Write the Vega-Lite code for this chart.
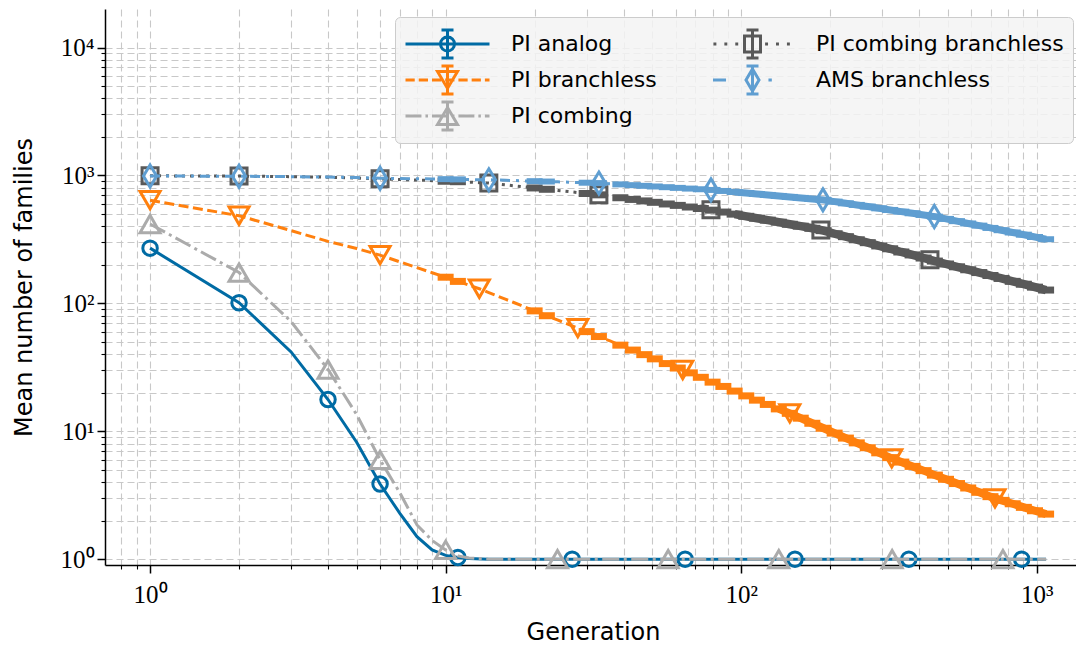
{
  "$schema": "https://vega.github.io/schema/vega-lite/v6.json",
  "width": 971,
  "height": 556,
  "autosize": "none",
  "padding": {"left": 105, "top": 9, "right": 0, "bottom": 81},
  "background": "white",
  "config": {
    "view": {"stroke": null},
    "axis": {
      "domainColor": "black", "domainWidth": 1.5, "tickColor": "black",
      "grid": true, "gridColor": "#c8c8c8", "gridDash": [7, 4], "gridWidth": 1.1,
      "labelFont": "Liberation Serif", "labelFontSize": 25, "labelColor": "black",
      "titleFont": "DejaVu Sans", "titleFontSize": 24, "titleFontWeight": "normal", "titleColor": "black"
    },
    "legend": {
      "columns": 2, "symbolSize": 7056, "symbolStrokeWidth": 3, "symbolOpacity": 1,
      "symbolFillColor": "transparent", "clipHeight": 36, "rowPadding": 0, "columnPadding": 52,
      "labelOffset": 20, "labelFont": "DejaVu Sans", "labelFontSize": 22, "labelColor": "black", "labelLimit": 0,
      "padding": 9, "fillColor": "rgba(243,243,243,0.85)", "strokeColor": "#cccccc", "cornerRadius": 5,
      "symbolLimit": 0
    }
  },
  "datasets": {
    "curves": [
      {"series":"PI analog","generation":1,"value":270},{"series":"PI analog","generation":2,"value":101},{"series":"PI analog","generation":3,"value":41.7},{"series":"PI analog","generation":4,"value":17.7},{"series":"PI analog","generation":5,"value":8.2},{"series":"PI analog","generation":6,"value":3.87},{"series":"PI analog","generation":7,"value":2.28},{"series":"PI analog","generation":8,"value":1.5},{"series":"PI analog","generation":9,"value":1.18},{"series":"PI analog","generation":10,"value":1.07},{"series":"PI analog","generation":11,"value":1.03},{"series":"PI analog","generation":12,"value":1.01},{"series":"PI analog","generation":14,"value":1},{"series":"PI analog","generation":20,"value":1},{"series":"PI analog","generation":50,"value":1},{"series":"PI analog","generation":100,"value":1},{"series":"PI analog","generation":300,"value":1},{"series":"PI analog","generation":1075,"value":1},

      {"series":"PI branchless","generation":1,"value":640},{"series":"PI branchless","generation":2,"value":484},{"series":"PI branchless","generation":3,"value":370},{"series":"PI branchless","generation":4,"value":305},{"series":"PI branchless","generation":5,"value":268},{"series":"PI branchless","generation":6,"value":238},{"series":"PI branchless","generation":7,"value":211},{"series":"PI branchless","generation":8,"value":190},{"series":"PI branchless","generation":9,"value":173.5},{"series":"PI branchless","generation":10,"value":160},{"series":"PI branchless","generation":11,"value":148.4},{"series":"PI branchless","generation":12,"value":138.6},{"series":"PI branchless","generation":13,"value":130},{"series":"PI branchless","generation":14,"value":121.4},{"series":"PI branchless","generation":15,"value":113.9},{"series":"PI branchless","generation":16,"value":107.3},{"series":"PI branchless","generation":17,"value":101.5},{"series":"PI branchless","generation":18,"value":96.2},{"series":"PI branchless","generation":20,"value":87.3},{"series":"PI branchless","generation":22,"value":80},{"series":"PI branchless","generation":24,"value":73.8},{"series":"PI branchless","generation":26,"value":68.5},{"series":"PI branchless","generation":28,"value":64},{"series":"PI branchless","generation":30,"value":60.1},{"series":"PI branchless","generation":33,"value":55},{"series":"PI branchless","generation":36,"value":50.8},{"series":"PI branchless","generation":39,"value":47.1},{"series":"PI branchless","generation":43,"value":43.1},{"series":"PI branchless","generation":47,"value":39.7},{"series":"PI branchless","generation":51,"value":36.8},{"series":"PI branchless","generation":56,"value":33.8},{"series":"PI branchless","generation":61,"value":31.2},{"series":"PI branchless","generation":67,"value":28.6},{"series":"PI branchless","generation":73,"value":26.4},{"series":"PI branchless","generation":80,"value":24.2},{"series":"PI branchless","generation":87,"value":22.4},{"series":"PI branchless","generation":95,"value":20.6},{"series":"PI branchless","generation":104,"value":18.9},{"series":"PI branchless","generation":113,"value":17.5},{"series":"PI branchless","generation":123,"value":16.2},{"series":"PI branchless","generation":134,"value":14.95},{"series":"PI branchless","generation":146,"value":13.8},{"series":"PI branchless","generation":159,"value":12.65},{"series":"PI branchless","generation":174,"value":11.54},{"series":"PI branchless","generation":190,"value":10.55},{"series":"PI branchless","generation":207,"value":9.67},{"series":"PI branchless","generation":226,"value":8.84},{"series":"PI branchless","generation":246,"value":8.11},{"series":"PI branchless","generation":268,"value":7.43},{"series":"PI branchless","generation":293,"value":6.78},{"series":"PI branchless","generation":319,"value":6.22},{"series":"PI branchless","generation":348,"value":5.74},{"series":"PI branchless","generation":380,"value":5.31},{"series":"PI branchless","generation":414,"value":4.92},{"series":"PI branchless","generation":452,"value":4.54},{"series":"PI branchless","generation":493,"value":4.21},{"series":"PI branchless","generation":537,"value":3.9},{"series":"PI branchless","generation":586,"value":3.6},{"series":"PI branchless","generation":639,"value":3.33},{"series":"PI branchless","generation":697,"value":3.08},{"series":"PI branchless","generation":760,"value":2.88},{"series":"PI branchless","generation":829,"value":2.71},{"series":"PI branchless","generation":904,"value":2.54},{"series":"PI branchless","generation":986,"value":2.39},{"series":"PI branchless","generation":1075,"value":2.25},

      {"series":"PI combing","generation":1,"value":417},{"series":"PI combing","generation":2,"value":174},{"series":"PI combing","generation":3,"value":72},{"series":"PI combing","generation":4,"value":30.4},{"series":"PI combing","generation":5,"value":13.5},{"series":"PI combing","generation":6,"value":5.98},{"series":"PI combing","generation":7,"value":3.3},{"series":"PI combing","generation":8,"value":1.85},{"series":"PI combing","generation":9,"value":1.4},{"series":"PI combing","generation":10,"value":1.18},{"series":"PI combing","generation":11,"value":1.06},{"series":"PI combing","generation":12,"value":1.02},{"series":"PI combing","generation":14,"value":1},{"series":"PI combing","generation":20,"value":1},{"series":"PI combing","generation":50,"value":1},{"series":"PI combing","generation":100,"value":1},{"series":"PI combing","generation":300,"value":1},{"series":"PI combing","generation":1075,"value":1},

      {"series":"PI combing branchless","generation":1,"value":993},{"series":"PI combing branchless","generation":2,"value":988},{"series":"PI combing branchless","generation":3,"value":978},{"series":"PI combing branchless","generation":4,"value":968},{"series":"PI combing branchless","generation":5,"value":955},{"series":"PI combing branchless","generation":6,"value":940},{"series":"PI combing branchless","generation":7,"value":930},{"series":"PI combing branchless","generation":8,"value":920},{"series":"PI combing branchless","generation":9,"value":910},{"series":"PI combing branchless","generation":10,"value":900},{"series":"PI combing branchless","generation":11,"value":893},{"series":"PI combing branchless","generation":12,"value":885},{"series":"PI combing branchless","generation":13,"value":878},{"series":"PI combing branchless","generation":14,"value":871},{"series":"PI combing branchless","generation":15,"value":856},{"series":"PI combing branchless","generation":16,"value":843},{"series":"PI combing branchless","generation":17,"value":830},{"series":"PI combing branchless","generation":18,"value":819},{"series":"PI combing branchless","generation":20,"value":798},{"series":"PI combing branchless","generation":22,"value":779},{"series":"PI combing branchless","generation":24,"value":762},{"series":"PI combing branchless","generation":26,"value":748},{"series":"PI combing branchless","generation":28,"value":734},{"series":"PI combing branchless","generation":30,"value":722},{"series":"PI combing branchless","generation":33,"value":705},{"series":"PI combing branchless","generation":36,"value":686},{"series":"PI combing branchless","generation":39,"value":669},{"series":"PI combing branchless","generation":43,"value":649},{"series":"PI combing branchless","generation":47,"value":632},{"series":"PI combing branchless","generation":51,"value":616},{"series":"PI combing branchless","generation":56,"value":598},{"series":"PI combing branchless","generation":61,"value":583},{"series":"PI combing branchless","generation":67,"value":566},{"series":"PI combing branchless","generation":73,"value":551},{"series":"PI combing branchless","generation":80,"value":535},{"series":"PI combing branchless","generation":87,"value":517},{"series":"PI combing branchless","generation":95,"value":498},{"series":"PI combing branchless","generation":104,"value":479},{"series":"PI combing branchless","generation":113,"value":463},{"series":"PI combing branchless","generation":123,"value":447},{"series":"PI combing branchless","generation":134,"value":431},{"series":"PI combing branchless","generation":146,"value":415},{"series":"PI combing branchless","generation":159,"value":401},{"series":"PI combing branchless","generation":174,"value":386},{"series":"PI combing branchless","generation":190,"value":370},{"series":"PI combing branchless","generation":207,"value":350},{"series":"PI combing branchless","generation":226,"value":332},{"series":"PI combing branchless","generation":246,"value":314},{"series":"PI combing branchless","generation":268,"value":298},{"series":"PI combing branchless","generation":293,"value":281},{"series":"PI combing branchless","generation":319,"value":267},{"series":"PI combing branchless","generation":348,"value":252},{"series":"PI combing branchless","generation":380,"value":239},{"series":"PI combing branchless","generation":414,"value":226},{"series":"PI combing branchless","generation":452,"value":214},{"series":"PI combing branchless","generation":493,"value":203},{"series":"PI combing branchless","generation":537,"value":193},{"series":"PI combing branchless","generation":586,"value":183},{"series":"PI combing branchless","generation":639,"value":174},{"series":"PI combing branchless","generation":697,"value":165},{"series":"PI combing branchless","generation":760,"value":156.5},{"series":"PI combing branchless","generation":829,"value":148.5},{"series":"PI combing branchless","generation":904,"value":141},{"series":"PI combing branchless","generation":986,"value":133.8},{"series":"PI combing branchless","generation":1075,"value":127},

      {"series":"AMS branchless","generation":1,"value":990},{"series":"AMS branchless","generation":2,"value":985},{"series":"AMS branchless","generation":3,"value":978},{"series":"AMS branchless","generation":4,"value":970},{"series":"AMS branchless","generation":5,"value":962},{"series":"AMS branchless","generation":6,"value":950},{"series":"AMS branchless","generation":7,"value":946},{"series":"AMS branchless","generation":8,"value":942},{"series":"AMS branchless","generation":9,"value":938},{"series":"AMS branchless","generation":10,"value":935},{"series":"AMS branchless","generation":11,"value":931},{"series":"AMS branchless","generation":12,"value":928},{"series":"AMS branchless","generation":13,"value":926},{"series":"AMS branchless","generation":14,"value":924},{"series":"AMS branchless","generation":15,"value":920},{"series":"AMS branchless","generation":16,"value":915.5},{"series":"AMS branchless","generation":17,"value":911.7},{"series":"AMS branchless","generation":18,"value":908},{"series":"AMS branchless","generation":20,"value":901.5},{"series":"AMS branchless","generation":22,"value":895.6},{"series":"AMS branchless","generation":24,"value":890.3},{"series":"AMS branchless","generation":26,"value":885.4},{"series":"AMS branchless","generation":28,"value":880.9},{"series":"AMS branchless","generation":30,"value":876.7},{"series":"AMS branchless","generation":33,"value":871},{"series":"AMS branchless","generation":36,"value":860.5},{"series":"AMS branchless","generation":39,"value":851},{"series":"AMS branchless","generation":43,"value":839},{"series":"AMS branchless","generation":47,"value":829},{"series":"AMS branchless","generation":51,"value":819.5},{"series":"AMS branchless","generation":56,"value":809},{"series":"AMS branchless","generation":61,"value":799},{"series":"AMS branchless","generation":67,"value":789},{"series":"AMS branchless","generation":73,"value":779.5},{"series":"AMS branchless","generation":80,"value":770},{"series":"AMS branchless","generation":87,"value":756},{"series":"AMS branchless","generation":95,"value":742},{"series":"AMS branchless","generation":104,"value":728},{"series":"AMS branchless","generation":113,"value":716},{"series":"AMS branchless","generation":123,"value":703.6},{"series":"AMS branchless","generation":134,"value":691},{"series":"AMS branchless","generation":146,"value":679},{"series":"AMS branchless","generation":159,"value":667},{"series":"AMS branchless","generation":174,"value":655},{"series":"AMS branchless","generation":190,"value":643},{"series":"AMS branchless","generation":207,"value":624},{"series":"AMS branchless","generation":226,"value":605},{"series":"AMS branchless","generation":246,"value":588},{"series":"AMS branchless","generation":268,"value":571},{"series":"AMS branchless","generation":293,"value":553},{"series":"AMS branchless","generation":319,"value":537},{"series":"AMS branchless","generation":348,"value":521},{"series":"AMS branchless","generation":380,"value":506},{"series":"AMS branchless","generation":414,"value":491},{"series":"AMS branchless","generation":452,"value":476},{"series":"AMS branchless","generation":493,"value":457},{"series":"AMS branchless","generation":537,"value":439},{"series":"AMS branchless","generation":586,"value":421},{"series":"AMS branchless","generation":639,"value":405},{"series":"AMS branchless","generation":697,"value":388.5},{"series":"AMS branchless","generation":760,"value":373},{"series":"AMS branchless","generation":829,"value":358},{"series":"AMS branchless","generation":904,"value":344},{"series":"AMS branchless","generation":986,"value":330},{"series":"AMS branchless","generation":1075,"value":317}
    ],
    "markers": [
      {"series":"PI analog","generation":1,"value":270},{"series":"PI analog","generation":2,"value":101},{"series":"PI analog","generation":4,"value":17.7},{"series":"PI analog","generation":6,"value":3.87},{"series":"PI analog","generation":11,"value":1.03},{"series":"PI analog","generation":26.8,"value":1},{"series":"PI analog","generation":64.6,"value":1},{"series":"PI analog","generation":152,"value":1},{"series":"PI analog","generation":369,"value":1},{"series":"PI analog","generation":889,"value":1},
      {"series":"PI branchless","generation":1,"value":640},{"series":"PI branchless","generation":2,"value":484},{"series":"PI branchless","generation":6,"value":238},{"series":"PI branchless","generation":13,"value":130},{"series":"PI branchless","generation":28,"value":64},{"series":"PI branchless","generation":63.4,"value":30.1},{"series":"PI branchless","generation":146,"value":13.8},{"series":"PI branchless","generation":323,"value":6.14},{"series":"PI branchless","generation":722,"value":2.99},
      {"series":"PI combing","generation":1,"value":417},{"series":"PI combing","generation":2,"value":174},{"series":"PI combing","generation":4,"value":30.4},{"series":"PI combing","generation":6,"value":5.98},{"series":"PI combing","generation":10,"value":1.18},{"series":"PI combing","generation":23.9,"value":1},{"series":"PI combing","generation":56.6,"value":1},{"series":"PI combing","generation":134,"value":1},{"series":"PI combing","generation":324,"value":1},{"series":"PI combing","generation":768,"value":1},
      {"series":"PI combing branchless","generation":1,"value":993},{"series":"PI combing branchless","generation":2,"value":988},{"series":"PI combing branchless","generation":6,"value":940},{"series":"PI combing branchless","generation":14,"value":871},{"series":"PI combing branchless","generation":33,"value":705},{"series":"PI combing branchless","generation":79,"value":538},{"series":"PI combing branchless","generation":186,"value":375},{"series":"PI combing branchless","generation":435,"value":219},
      {"series":"AMS branchless","generation":1,"value":990},{"series":"AMS branchless","generation":2,"value":985},{"series":"AMS branchless","generation":6,"value":950},{"series":"AMS branchless","generation":14,"value":924},{"series":"AMS branchless","generation":33,"value":871},{"series":"AMS branchless","generation":79,"value":771},{"series":"AMS branchless","generation":189,"value":644},{"series":"AMS branchless","generation":450,"value":477}
    ]
  },
  "encoding": {
    "x": {
      "field": "generation", "type": "quantitative",
      "scale": {"type": "log", "domain": [0.704, 1357], "nice": false},
      "axis": {
        "title": "Generation",
        "values": [0.8,0.9,1,2,3,4,5,6,7,8,9,10,20,30,40,50,60,70,80,90,100,200,300,400,500,600,700,800,900,1000],
        "labelExpr": "datum.value===1?'10\u2070':datum.value===10?'10\u00b9':datum.value===100?'10\u00b2':datum.value===1000?'10\u00b3':''",
        "tickSize": {"condition": {"test": "datum.value===1||datum.value===10||datum.value===100||datum.value===1000", "value": 8}, "value": 4},
        "tickWidth": {"condition": {"test": "datum.value===1||datum.value===10||datum.value===100||datum.value===1000", "value": 1.5}, "value": 1.1},
        "labelOverlap": false, "labelFlush": false, "labelPadding": 9, "labelBaseline": "top",
        "titleX": 488, "titleY": 74, "titleBaseline": "alphabetic"
      }
    },
    "y": {
      "field": "value", "type": "quantitative",
      "scale": {"type": "log", "domain": [0.9, 20000], "nice": false},
      "axis": {
        "title": "Mean number of families",
        "values": [1,2,3,4,5,6,7,8,9,10,20,30,40,50,60,70,80,90,100,200,300,400,500,600,700,800,900,1000,2000,3000,4000,5000,6000,7000,8000,9000,10000],
        "labelExpr": "datum.value===1?'10\u2070':datum.value===10?'10\u00b9':datum.value===100?'10\u00b2':datum.value===1000?'10\u00b3':datum.value===10000?'10\u2074':''",
        "tickSize": {"condition": {"test": "datum.value===1||datum.value===10||datum.value===100||datum.value===1000||datum.value===10000", "value": 8}, "value": 4},
        "tickWidth": {"condition": {"test": "datum.value===1||datum.value===10||datum.value===100||datum.value===1000||datum.value===10000", "value": 1.5}, "value": 1.1},
        "labelOverlap": false, "labelFlush": false, "labelPadding": 3,
        "titleX": -74, "titleY": 278, "titleAngle": -90, "titleBaseline": "alphabetic", "titleAlign": "center"
      }
    }
  },
  "layer": [
    {"data": {"name": "curves"}, "transform": [{"filter": "datum.series==='PI analog'"}], "mark": {"type": "line", "color": "#006BA4", "strokeWidth": 3}},
    {"data": {"name": "markers"}, "transform": [{"filter": "datum.series==='PI analog'"}], "mark": {"type": "point", "shape": "circle", "size": 210, "filled": false, "stroke": "#006BA4", "strokeWidth": 3, "opacity": 1}},

    {"data": {"name": "curves"}, "transform": [{"filter": "datum.series==='PI branchless'"}], "mark": {"type": "line", "color": "#FF800E", "strokeWidth": 3, "strokeDash": [10, 4.5]}},
    {"data": {"name": "curves"}, "transform": [{"filter": "datum.series==='PI branchless' && datum.generation>=134"}], "mark": {"type": "line", "color": "#FF800E", "strokeWidth": 8}},
    {"data": {"name": "curves"}, "transform": [{"filter": "datum.series==='PI branchless' && (datum.generation>=39 || indexof([10,11,20,22,30,33], datum.generation)>=0)"}], "mark": {"type": "point", "shape": "stroke", "size": 256, "filled": false, "stroke": "#FF800E", "strokeWidth": 7, "opacity": 1}},
    {"data": {"name": "markers"}, "transform": [{"filter": "datum.series==='PI branchless'"}], "mark": {"type": "point", "shape": "triangle-down", "size": 400, "filled": false, "stroke": "#FF800E", "strokeWidth": 3, "opacity": 1}},

    {"data": {"name": "curves"}, "transform": [{"filter": "datum.series==='PI combing'"}], "mark": {"type": "line", "color": "#ABABAB", "strokeWidth": 3, "strokeDash": [17, 4.5, 3, 4.5]}},
    {"data": {"name": "markers"}, "transform": [{"filter": "datum.series==='PI combing'"}], "mark": {"type": "point", "shape": "triangle-up", "size": 400, "filled": false, "stroke": "#ABABAB", "strokeWidth": 3, "opacity": 1}},

    {"data": {"name": "curves"}, "transform": [{"filter": "datum.series==='PI combing branchless'"}], "mark": {"type": "line", "color": "#595959", "strokeWidth": 3, "strokeDash": [3, 5]}},
    {"data": {"name": "curves"}, "transform": [{"filter": "datum.series==='PI combing branchless' && datum.generation>=95"}], "mark": {"type": "line", "color": "#595959", "strokeWidth": 8.5}},
    {"data": {"name": "curves"}, "transform": [{"filter": "datum.series==='PI combing branchless' && (datum.generation>=39 || indexof([10,11,20,22,30,33], datum.generation)>=0)"}], "mark": {"type": "point", "shape": "stroke", "size": 256, "filled": false, "stroke": "#595959", "strokeWidth": 7, "opacity": 1}},
    {"data": {"name": "markers"}, "transform": [{"filter": "datum.series==='PI combing branchless'"}], "mark": {"type": "point", "shape": "square", "size": 256, "filled": false, "stroke": "#595959", "strokeWidth": 3, "opacity": 1}},

    {"data": {"name": "curves"}, "transform": [{"filter": "datum.series==='AMS branchless'"}], "mark": {"type": "line", "color": "#5F9ED1", "strokeWidth": 3, "strokeDash": [10, 6, 3, 6]}},
    {"data": {"name": "curves"}, "transform": [{"filter": "datum.series==='AMS branchless' && datum.generation>=95"}], "mark": {"type": "line", "color": "#5F9ED1", "strokeWidth": 7}},
    {"data": {"name": "curves"}, "transform": [{"filter": "datum.series==='AMS branchless' && (datum.generation>=39 || indexof([10,11,20,22,30,33], datum.generation)>=0)"}], "mark": {"type": "point", "shape": "stroke", "size": 256, "filled": false, "stroke": "#5F9ED1", "strokeWidth": 6, "opacity": 1}},
    {"data": {"name": "markers"}, "transform": [{"filter": "datum.series==='AMS branchless'"}], "mark": {"type": "point", "shape": "M0,-1L0.6,0L0,1L-0.6,0Z", "size": 484, "filled": false, "stroke": "#5F9ED1", "strokeWidth": 3, "opacity": 1}},

    {
      "data": {"name": "markers"},
      "transform": [{"filter": "false"}],
      "mark": {"type": "point", "filled": false, "opacity": 1, "size": 7056, "strokeWidth": 3},
      "encoding": {
        "stroke": {
          "field": "series", "type": "nominal",
          "scale": {"domain": ["PI analog", "PI branchless", "PI combing", "PI combing branchless", "AMS branchless"], "range": ["#006BA4", "#FF800E", "#ABABAB", "#595959", "#5F9ED1"]},
          "legend": {"title": null, "orient": "none", "legendX": 290, "legendY": 8}
        },
        "shape": {
          "field": "series", "type": "nominal",
          "scale": {"domain": ["PI analog", "PI branchless", "PI combing", "PI combing branchless", "AMS branchless"], "range": [
            "M-1,0H1M0,-0.333V0.333M-0.143,-0.333H0.143M-0.143,0.333H0.143M0.167,0A0.167,0.167 0 1,1 -0.167,0A0.167,0.167 0 1,1 0.167,0Z",
            "M-1,0H-0.78M-0.685,0H-0.465M-0.37,0H-0.15M-0.055,0H0.165M0.26,0H0.48M0.575,0H0.795M0.89,0H1M0,-0.333V0.333M-0.143,-0.333H0.143M-0.143,0.333H0.143M-0.238,-0.2H0.238L0,0.2Z",
            "M-1,0H-0.62M-0.525,0H-0.465M-0.37,0H0.01M0.105,0H0.165M0.26,0H0.64M0.735,0H0.795M0.89,0H1M0,-0.333V0.333M-0.143,-0.333H0.143M-0.143,0.333H0.143M0,-0.2L0.238,0.2H-0.238Z",
            "M-0.93,0H-0.86M-0.67,0H-0.6M-0.41,0H-0.34M0.3,0H0.37M0.56,0H0.63M0.82,0H0.89M0,-0.333V0.333M-0.143,-0.333H0.143M-0.143,0.333H0.143M-0.19,-0.19H0.19V0.19H-0.19Z",
            "M-0.94,0H-0.63M0.38,0H0.46M0,-0.333V0.333M-0.143,-0.333H0.143M-0.143,0.333H0.143M0,-0.262L0.155,0L0,0.262L-0.155,0Z"
          ]},
          "legend": {"title": null, "orient": "none", "legendX": 290, "legendY": 8}
        }
      }
    }
  ]
}
